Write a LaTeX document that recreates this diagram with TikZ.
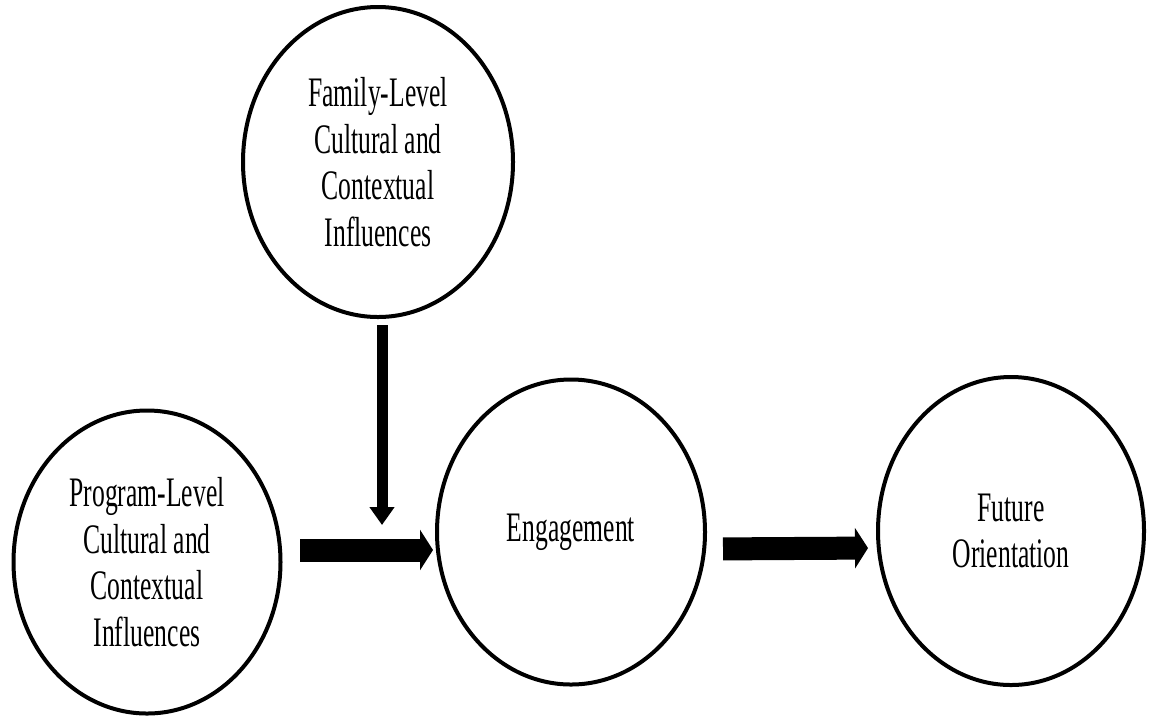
\documentclass[tikz,border=0pt]{standalone}
\usepackage{fontspec}
\setmainfont[FakeStretch=0.61]{Liberation Serif}
\usetikzlibrary{shapes.geometric, arrows.meta}

\begin{document}
\begin{tikzpicture}[
    x=0.5pt, y=-0.5pt,
    % Construct ellipses
    construct/.style={
        ellipse, draw=black, line width=2pt, inner sep=0pt,
        align=center, font=\fontsize{21}{23.25}\selectfont
    },
    % Main path arrows (block arrows)
    flow/.style={
        -{Triangle[width=20pt, length=6.5pt]}, line width=11.5pt
    },
    % Moderating arrow
    modarrow/.style={
        -{Triangle[width=12pt, length=9pt]}, line width=5.5pt
    },
]

\useasboundingbox (0,0) rectangle (1149,719);

% Constructs
\node[construct, minimum width=135pt, minimum height=155pt] (family) at (378,162)
    {Family-Level\\Cultural and\\Contextual\\Influences};
\node[construct, minimum width=133.5pt, minimum height=151.5pt] (program) at (147,562)
    {Program-Level\\Cultural and\\Contextual\\Influences};
\node[construct, minimum width=134pt, minimum height=152.5pt] (engage) at (571,532)
    {Engagement};
\node[construct, minimum width=133pt, minimum height=154pt] (future) at (1011,531)
    {Future\\Orientation};

% Main path
\draw[flow, shorten <=8.75pt, shorten >=1pt]
    ([yshift=6pt]program.east) -- ([yshift=-9pt]engage.west)
    coordinate[pos=0.5] (modpt);
\draw[flow, shorten <=8pt, shorten >=4pt]
    ([yshift=-8.5pt]engage.east) -- ([yshift=-8.5pt]future.west);

% Moderation
\draw[modarrow, shorten <=3pt, shorten >=12.5pt]
    ([xshift=2pt]family.south) -- ([xshift=2pt]family.south |- modpt);

\end{tikzpicture}
\end{document}
